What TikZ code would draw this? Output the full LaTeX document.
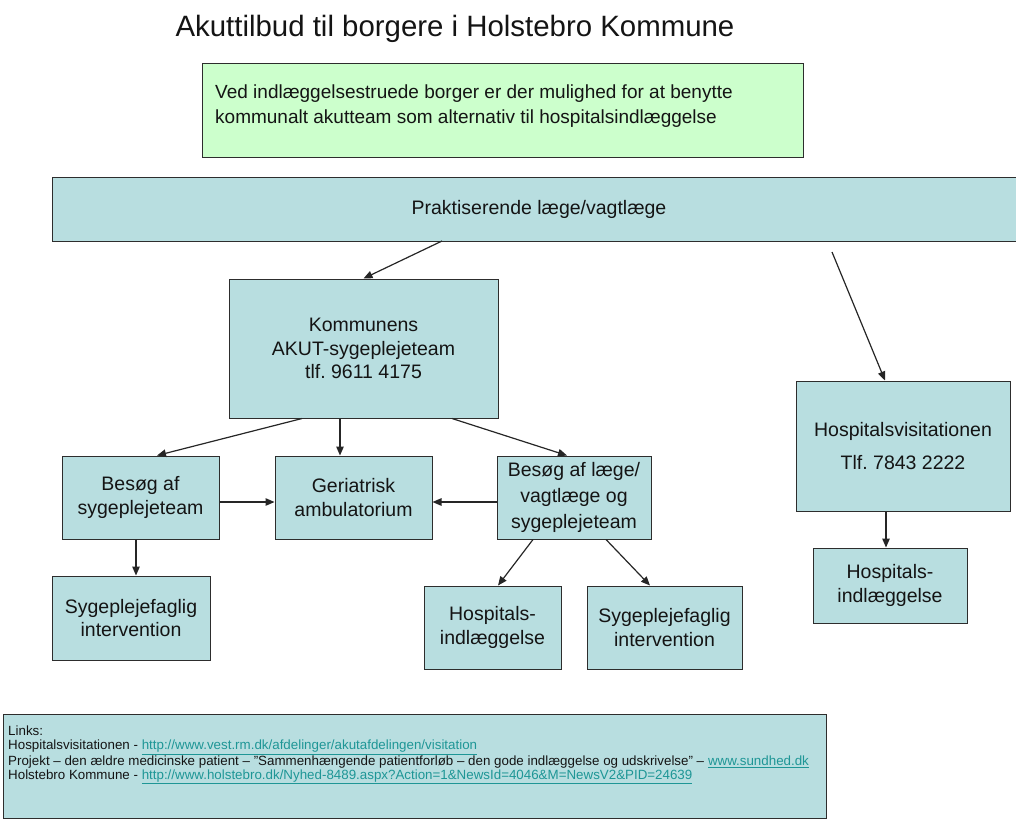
\documentclass[tikz,border=0pt]{standalone}
\usepackage{fontspec}
\setmainfont{Liberation Sans}
\usetikzlibrary{arrows.meta,calc}
\definecolor{boxfill}{RGB}{184,222,224}
\definecolor{greenfill}{RGB}{204,255,204}
\definecolor{linkcol}{RGB}{30,150,150}
\definecolor{boxline}{RGB}{45,45,45}
\definecolor{textcol}{RGB}{20,20,20}
\frenchspacing
\begin{document}
\begin{tikzpicture}[x=1pt,y=-1pt,
  box/.style={draw=boxline,line width=1pt,fill=boxfill,align=center,inner sep=0pt,
    font=\fontsize{19.5}{23.5}\selectfont,text=textcol},
  arr/.style={draw=black!85,line width=1.2pt,-{Triangle[length=9pt,width=7.5pt]}}]
\useasboundingbox (0,0) rectangle (1016,822);
\node[font=\fontsize{29.4}{33}\selectfont,text=textcol] (title) at (455,29) {Akuttilbud til borgere i Holstebro Kommune};
\node[box,fill=greenfill,minimum width=601pt,minimum height=94pt] (green) at (502.5,110) {};
\node[anchor=west,align=left,inner sep=0pt,font=\fontsize{19}{25}\selectfont,text=textcol] (gtext) at (215,106.5)
  {Ved indlæggelsestruede borger er der mulighed for at benytte\\kommunalt akutteam som alternativ til hospitalsindlæggelse};
\node[box,minimum width=974pt,minimum height=64pt] (prak) at (539,209) {Praktiserende læge/vagtlæge};
\node[box,minimum width=269pt,minimum height=139pt] (kom) at (363.5,348.5) {Kommunens\\AKUT-sygeplejeteam\\tlf. 9611 4175};
\node[box,minimum width=214pt,minimum height=130pt,font=\fontsize{19.5}{33}\selectfont] (hv) at (903,446) {Hospitalsvisitationen\\Tlf. 7843 2222};
\node[box,minimum width=157pt,minimum height=83pt] (bs) at (140.5,497.5) {Besøg af\\sygeplejeteam};
\node[box,minimum width=157pt,minimum height=83pt] (ger) at (353.5,497.5) {Geriatrisk\\ambulatorium};
\node[box,minimum width=154pt,minimum height=83pt,font=\fontsize{19.5}{26}\selectfont] (bl) at (574,497.5) {Besøg af læge/\\vagtlæge og\\sygeplejeteam};
\node[box,minimum width=158pt,minimum height=84pt] (sf1) at (131,618) {Sygeplejefaglig\\intervention};
\node[box,minimum width=137pt,minimum height=83pt] (hi1) at (492.5,627.5) {Hospitals-\\indlæggelse};
\node[box,minimum width=155pt,minimum height=83pt] (sf2) at (664.5,627.5) {Sygeplejefaglig\\intervention};
\node[box,minimum width=154pt,minimum height=75pt] (hi2) at (890,585.5) {Hospitals-\\indlæggelse};
\node[box,minimum width=823pt,minimum height=104pt] (links) at (414.5,766) {};
\node[anchor=north west,align=left,inner sep=0pt,font=\fontsize{13.35}{13.9}\selectfont,text=textcol] (ltext) at (8,726)
  {Links:\\
   Hospitalsvisitationen - \textcolor{linkcol}{\underline{http://www.vest.rm.dk/afdelinger/akutafdelingen/visitation}}\\
   Projekt – den ældre medicinske patient – \char34 Sammenhængende patientforløb – den gode indlæggelse og udskrivelse\char34\ – \textcolor{linkcol}{\underline{www.sundhed.dk}}\\
   Holstebro Kommune - \textcolor{linkcol}{\underline{http://www.holstebro.dk/Nyhed-8489.aspx?Action=1\&NewsId=4046\&M=NewsV2\&PID=24639}}};
% connectors
\coordinate (p1) at (442,241);
\coordinate (p2) at (832,252);
\draw[arr] (p1) -- (kom.north);
\draw[arr] (p2) -- ($(hv.north)+(-18,0)$);
\draw[arr] ($(kom.south)+(-61.5,0)$) -- ($(bs.north)+(16.5,0)$);
\draw[arr] ($(kom.south)+(-23.5,0)$) -- ($(ger.north)+(-13.5,0)$);
\draw[arr] ($(kom.south)+(88.5,0)$) -- ($(bl.north)+(-7,0)$);
\draw[arr] ($(bs.east)+(0,4.5)$) -- ($(ger.west)+(0,4.5)$);
\draw[arr] ($(bl.west)+(0,4.5)$) -- ($(ger.east)+(0,4.5)$);
\draw[arr] ($(bs.south)+(-4.5,0)$) -- ($(sf1.north)+(5,0)$);
\draw[arr] ($(bl.south)+(-41,0)$) -- ($(hi1.north)+(5.5,0)$);
\draw[arr] ($(bl.south)+(32,0)$) -- ($(sf2.north)+(-14.5,0)$);
\draw[arr] ($(hv.south)+(-17,0)$) -- ($(hi2.north)+(-4,0)$);
\end{tikzpicture}
\end{document}
